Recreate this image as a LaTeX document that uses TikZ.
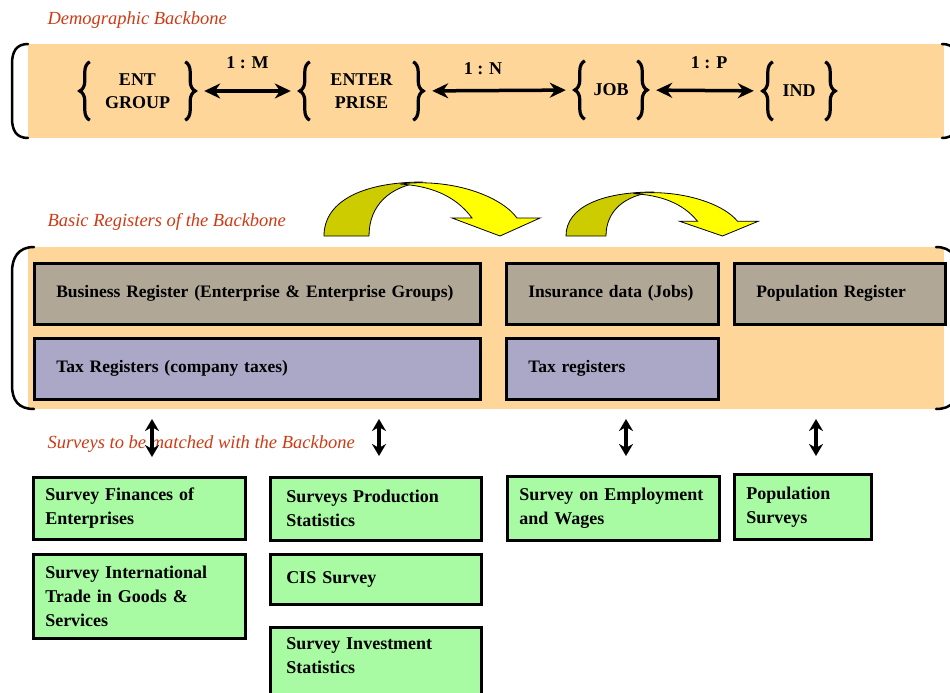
\documentclass[tikz,border=0pt]{standalone}
\usepackage{fontspec}
\setmainfont{Liberation Serif}
\usetikzlibrary{arrows.meta,decorations.pathreplacing}

\definecolor{bandorange}{RGB}{254,214,154}
\definecolor{regtaupe}{RGB}{176,167,150}
\definecolor{reglilac}{RGB}{171,167,198}
\definecolor{surveygreen}{RGB}{168,251,162}
\definecolor{labelred}{RGB}{205,58,20}
\definecolor{arrowolive}{RGB}{204,204,0}
\definecolor{arrowyellow}{RGB}{255,255,0}

\tikzset{bendarrow/.pic={
	\filldraw[fill=arrowolive, draw=black, line width=0.8pt] (0,0) .. controls (0,-36) and (41,-54) .. (99,-54) .. controls (66,-50) and (45,-31) .. (45,0) -- cycle;
	\filldraw[fill=arrowyellow, draw=black, line width=0.8pt] (76,-52) .. controls (126,-58) and (176,-41) .. (193,-18) -- (216,-18) -- (176,0) -- (128,-18) -- (148,-18) .. controls (131,-41) and (106,-50) .. (76,-52) -- cycle;
}}

\begin{document}
\begin{tikzpicture}[x=1pt, y=-1pt, every node/.style={font=\bfseries\fontsize{18}{24}\selectfont},
	bandbracket/.style={line width=2.5pt, line cap=round},
	bandlabel/.style={anchor=west, text=labelred, font=\itshape\fontsize{18.5}{22}\selectfont},
	entity/.style={align=center, minimum height=58pt, inner sep=0pt, font=\bfseries\fontsize{18}{23}\selectfont},
	setbrace/.style={decorate, decoration={brace, amplitude=10pt}, line width=3.2pt},
	relarrow/.style={{Stealth[length=16pt,width=15pt]}-{Stealth[length=16pt,width=15pt]}, line width=3.5pt, shorten <=19pt, shorten >=19pt},
	regbox/.style={draw, line width=2.5pt, anchor=north west, align=left, inner xsep=22pt, inner ysep=0pt, minimum height=61pt, font=\bfseries\fontsize{17.5}{24}\selectfont},
	surveybox/.style={draw, line width=2.5pt, fill=surveygreen, anchor=north west, align=left, inner xsep=12pt, inner ysep=0pt},
	updown/.style={{Stealth[length=12pt,width=14pt]}-{Stealth[length=12pt,width=14pt]}, line width=3.5pt}]
	\useasboundingbox (0,0) rectangle (950,693);
	\clip (0,0) rectangle (950,693);

	% demographic backbone
	\node[bandlabel] (demolabel) at (44,20) {Demographic Backbone};
	\fill[bandorange] (28,44) rectangle (944,138);
	\draw[bandbracket] (28,44) .. controls (16,44) and (12,52) .. (12,64) -- (12,118) .. controls (12,130) and (16,138) .. (28,138);
	\draw[bandbracket] (942,44) .. controls (954,44) and (958,52) .. (958,64) -- (958,118) .. controls (958,130) and (954,138) .. (942,138);
	\node[entity, minimum width=95pt] (entgroup) at (137.5,91) {ENT\\GROUP};
	\node[entity, minimum width=103pt] (enterprise) at (361.5,91) {ENTER\\PRISE};
	\node[entity, minimum width=52pt] (job) at (611,90) {JOB};
	\node[entity, minimum width=52pt] (ind) at (799,91) {IND};
	\foreach \n in {entgroup,enterprise,job,ind} {
		\draw[setbrace] (\n.south west) -- (\n.north west);
		\draw[setbrace] (\n.north east) -- (\n.south east);
	}
	\draw[relarrow] (entgroup.east) -- node[above=17pt] {1 : M} (enterprise.west);
	\draw[relarrow] (enterprise.east) -- node[above=11pt, xshift=-16pt] {1 : N} (job.west);
	\draw[relarrow] (job.east) -- node[above=17pt, xshift=4pt] {1 : P} (ind.west);

	% basic registers
	\pic at (324,236) {bendarrow};
	\pic[xscale=0.889, yscale=0.815] at (566,236) {bendarrow};
	\node[bandlabel] (reglabel) at (44,222) {Basic Registers of the Backbone};
	\fill[bandorange] (28,247) rectangle (944,409);
	\draw[bandbracket] (34,247) .. controls (18,247) and (12,258) .. (12,272) -- (12,385) .. controls (12,400) and (18,409) .. (34,409);
	\draw[bandbracket] (936,247) .. controls (952,247) and (958,258) .. (958,272) -- (958,385) .. controls (958,400) and (952,409) .. (936,409);
	\node[regbox, fill=regtaupe, text width=402pt] (busreg) at (33,262) {\mbox{Business Register (Enterprise \& Enterprise Groups)}};
	\node[regbox, fill=reglilac, text width=402pt] (comptax) at (33,337) {Tax Registers (company taxes)};
	\node[regbox, fill=regtaupe, text width=168pt] (insur) at (505,262) {\mbox{Insurance data (Jobs)}};
	\node[regbox, fill=reglilac, text width=168pt] (jobtax) at (505,337) {Tax registers};
	\node[regbox, fill=regtaupe, text width=167pt] (popreg) at (733,262) {\mbox{Population Register}};

	% surveys
	\node[bandlabel] (surveylabel) at (44,444) {Surveys to be matched with the Backbone};
	\coordinate (link1a) at (152,419); \coordinate (link1b) at (152,457);
	\coordinate (link2a) at (379,419); \coordinate (link2b) at (379,456);
	\coordinate (link3a) at (626,419); \coordinate (link3b) at (626,456);
	\coordinate (link4a) at (816,419); \coordinate (link4b) at (816,456);
	\foreach \k in {1,2,3,4} {\draw[updown] (link\k a) -- (link\k b);}
	\node[surveybox, text width=188pt, minimum height=62pt] (finsurv) at (32,476) {Survey Finances of\\Enterprises};
	\node[surveybox, text width=188pt, minimum height=84pt] (tradesurv) at (32,553) {Survey International\\Trade in Goods \&\\Services};
	\node[surveybox, inner xsep=16pt, text width=179pt, minimum height=63pt] (prodsurv) at (269,476) {Surveys Production\\Statistics};
	\node[surveybox, inner xsep=16pt, text width=179pt, minimum height=50pt] (cissurv) at (269,553) {CIS Survey};
	\node[surveybox, inner xsep=16pt, text width=179pt, inner ysep=10pt, text depth=50pt] (investsurv) at (269,626) {Survey Investment\\Statistics};
	\node[surveybox, text width=188pt, minimum height=64pt] (empsurv) at (506,475) {Survey on Employment\\and Wages};
	\node[surveybox, text width=113pt, minimum height=65pt] (popsurv) at (733,473) {Population\\Surveys};
\end{tikzpicture}
\end{document}
